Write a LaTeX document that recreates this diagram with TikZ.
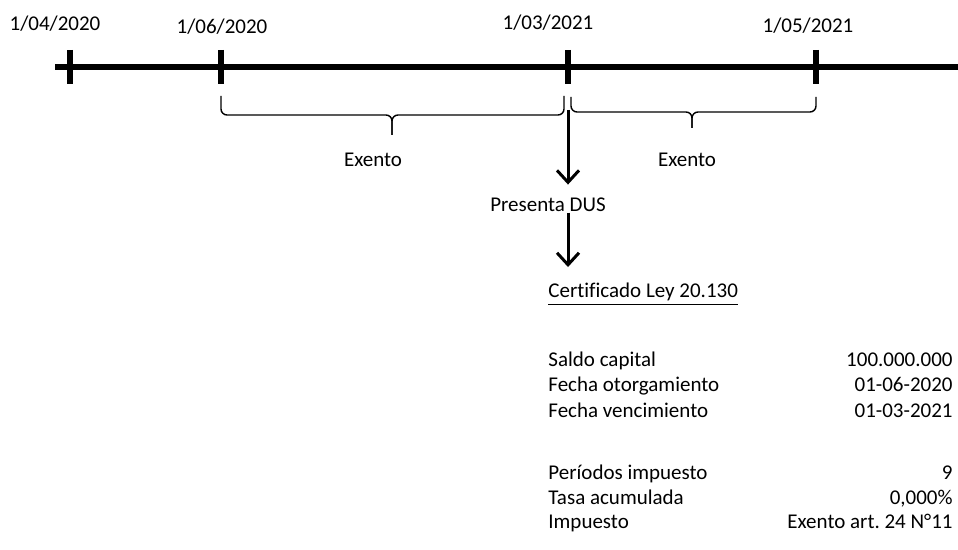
\documentclass[tikz,border=0pt]{standalone}
\usepackage{fontspec}
\setmainfont{Carlito}[Ligatures=NoCommon]
\usepackage{tikz}
\usetikzlibrary{arrows.meta}
\frenchspacing

\begin{document}
\begin{tikzpicture}[x=0.5pt,y=-0.5pt,
  txt/.style={font=\fontsize{10.5}{12}\selectfont, inner sep=0pt, anchor=base},
  tick/.style={line width=2.6pt},
  brace/.style={line width=0.7pt, rounded corners=3pt},
  flecha/.style={line width=1.5pt, -{Straight Barb[length=6pt,width=11pt]}}]
  \useasboundingbox (0,0) rectangle (958,550);

  % timeline
  \draw[tick] (55,67) -- (958,67);
  \draw[tick] (70,50) -- (70,84);
  \draw[tick] (221,50) -- (221,84);
  \draw[tick] (568,50) -- (568,84);
  \draw[tick] (816,50) -- (816,84);

  \node[txt] (d1) at (55,31) {1/04/2020};
  \node[txt] (d2) at (222,34) {1/06/2020};
  \node[txt] (d3) at (548,30) {1/03/2021};
  \node[txt] (d4) at (808,33) {1/05/2021};

  % braces
  \draw[brace] (221,96) |- (392,115) -- (392,135);
  \draw[brace] (564,96) |- (392,115) -- (392,135);
  \draw[brace] (571,97) |- (692,112) -- (692,128);
  \draw[brace] (816,97) |- (692,112) -- (692,128);

  \node[txt] (ex1) at (373,167) {Exento};
  \node[txt] (ex2) at (687,167) {Exento};

  % DUS
  \coordinate (a1) at (568,110);
  \node[txt] (dus) at (548,212) {Presenta DUS};
  \draw[flecha, shorten >=6.7pt] (a1) -- (dus.north -| a1);
  \node[txt, anchor=base west] (cert) at (548,298) {\underline{Certificado Ley 20.130}};
  \draw[flecha, shorten >=8pt] (dus.south -| a1) -- (cert.north -| a1);

  % certificado
  \node[txt, anchor=base west] (l1) at (548,367) {Saldo capital};
  \node[txt, anchor=base west] (l2) at (548,392) {Fecha otorgamiento};
  \node[txt, anchor=base west] (l3) at (548,417) {Fecha vencimiento};
  \node[txt, anchor=base west] (l4) at (548,480) {Períodos impuesto};
  \node[txt, anchor=base west] (l5) at (548,504) {Tasa acumulada};
  \node[txt, anchor=base west] (l6) at (548,528) {Impuesto};

  \node[txt, anchor=base east] (v1) at (953,367) {100.000.000};
  \node[txt, anchor=base east] (v2) at (953,392) {01-06-2020};
  \node[txt, anchor=base east] (v3) at (953,417) {01-03-2021};
  \node[txt, anchor=base east] (v4) at (953,480) {9};
  \node[txt, anchor=base east] (v5) at (953,504) {0,000\%};
  \node[txt, anchor=base east] (v6) at (953,528) {Exento art. 24 N°11};
\end{tikzpicture}
\end{document}
